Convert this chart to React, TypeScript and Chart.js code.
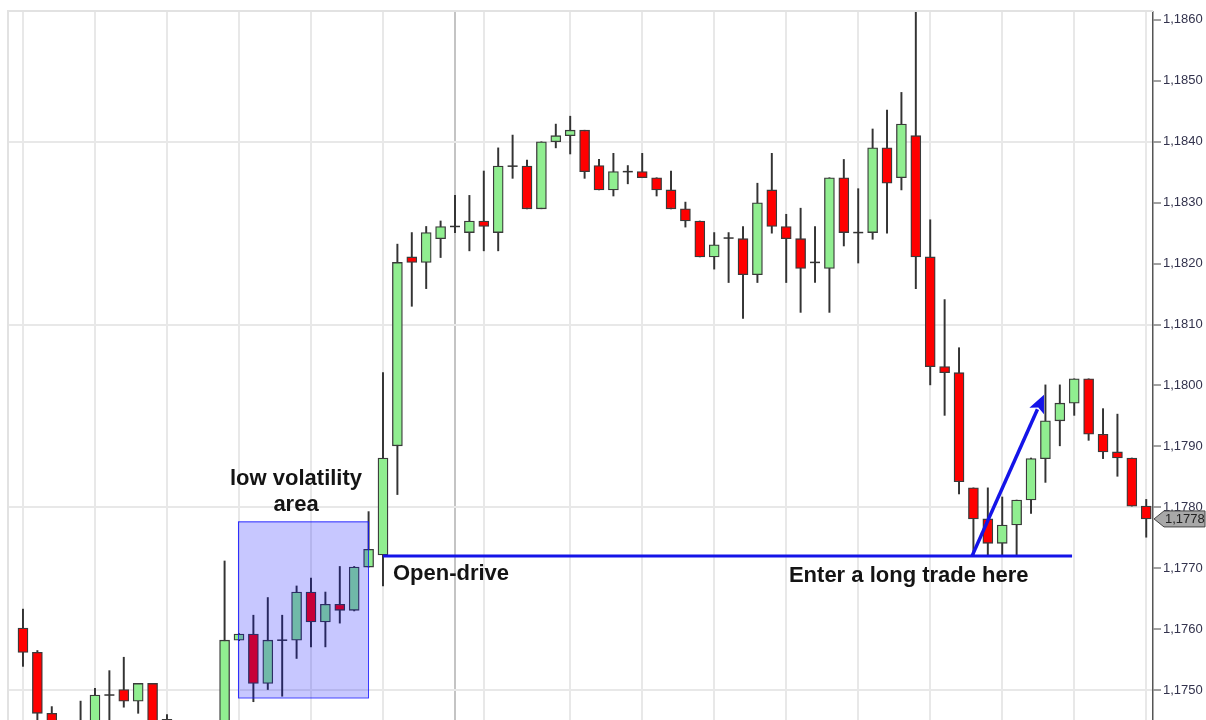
import React, { useEffect, useRef } from 'react';
import { Chart, registerables } from 'chart.js';

Chart.register(...registerables);

// ---- OHLC data (index = candle number, left to right) ----
const OPEN = [
  1.17602, 1.17562, 1.17462, 1.1743, 1.1741, 1.1743, 1.17492, 1.17501, 1.17482, 1.17511,
  1.17452, 1.1742, 1.174, 1.1741, 1.1742, 1.17582, 1.17592, 1.17511, 1.17582, 1.17582,
  1.17661, 1.17612, 1.17641, 1.17631, 1.17702, 1.17722, 1.17901, 1.18211, 1.18202, 1.18241,
  1.18261, 1.18251, 1.1827, 1.18251, 1.1836, 1.1836, 1.1829, 1.184, 1.1841, 1.18419,
  1.18361, 1.18321, 1.18351, 1.18351, 1.18341, 1.18321, 1.1829, 1.1827, 1.18211, 1.18242,
  1.18241, 1.18182, 1.18321, 1.18261, 1.18241, 1.18202, 1.18192, 1.18341, 1.18251, 1.18251,
  1.1839, 1.18341, 1.1841, 1.18211, 1.18031, 1.18021, 1.17832, 1.17781, 1.17741, 1.17771,
  1.17812, 1.1788, 1.17942, 1.17971, 1.18011, 1.1792, 1.17891, 1.17881, 1.17802,
];
const HIGH = [
  1.17633, 1.17565, 1.17473, 1.1744, 1.17482, 1.17503, 1.17532, 1.17554, 1.17511, 1.17511,
  1.1746, 1.1744, 1.1743, 1.1744, 1.17712, 1.17593, 1.17623, 1.17652, 1.17623, 1.17671,
  1.17684, 1.17661, 1.17703, 1.17703, 1.17793, 1.18021, 1.18232, 1.18251, 1.18261, 1.1827,
  1.18312, 1.18312, 1.18352, 1.1839, 1.18411, 1.1837, 1.184, 1.18429, 1.18442, 1.18419,
  1.18371, 1.18381, 1.18361, 1.18381, 1.18341, 1.18352, 1.18301, 1.1827, 1.18251, 1.18251,
  1.18261, 1.18332, 1.18381, 1.18281, 1.18291, 1.18261, 1.18341, 1.18371, 1.18323, 1.18421,
  1.18452, 1.18481, 1.1862, 1.18272, 1.18141, 1.18062, 1.17832, 1.17832, 1.17817, 1.17812,
  1.17881, 1.18001, 1.18001, 1.18011, 1.18011, 1.17962, 1.17953, 1.17881, 1.17813,
];
const LOW = [
  1.17539, 1.1744, 1.1741, 1.1738, 1.1739, 1.1742, 1.1742, 1.17472, 1.17462, 1.1742,
  1.174, 1.1738, 1.1737, 1.1739, 1.1741, 1.17581, 1.17481, 1.17501, 1.1749, 1.17552,
  1.17571, 1.17571, 1.1761, 1.1763, 1.17702, 1.17671, 1.17821, 1.1813, 1.18159, 1.1821,
  1.18251, 1.18221, 1.18221, 1.18221, 1.1834, 1.1829, 1.1829, 1.1839, 1.1838, 1.1834,
  1.18321, 1.18311, 1.18331, 1.18341, 1.18311, 1.1829, 1.1826, 1.18211, 1.18191, 1.18169,
  1.1811, 1.18169, 1.1825, 1.18169, 1.1812, 1.18169, 1.1812, 1.18229, 1.18201, 1.1824,
  1.1825, 1.18321, 1.18159, 1.18001, 1.17951, 1.17822, 1.1772, 1.1772, 1.1772, 1.1772,
  1.1779, 1.17841, 1.17901, 1.17951, 1.1791, 1.1788, 1.17851, 1.17802, 1.17751,
];
const CLOSE = [
  1.17562, 1.17462, 1.1743, 1.174, 1.1743, 1.17492, 1.17492, 1.17482, 1.17511, 1.1744,
  1.1742, 1.174, 1.1741, 1.1742, 1.17582, 1.17592, 1.17511, 1.17582, 1.17582, 1.17661,
  1.17612, 1.17641, 1.17631, 1.17702, 1.17731, 1.17881, 1.18202, 1.18202, 1.18251, 1.18261,
  1.18261, 1.1827, 1.18261, 1.1836, 1.1836, 1.1829, 1.184, 1.1841, 1.18419, 1.18351,
  1.18321, 1.18351, 1.18351, 1.18341, 1.18321, 1.1829, 1.1827, 1.18211, 1.18231, 1.18242,
  1.18182, 1.183, 1.18261, 1.18241, 1.18192, 1.18202, 1.18341, 1.18251, 1.18251, 1.1839,
  1.18332, 1.18429, 1.18211, 1.18031, 1.18021, 1.17842, 1.17781, 1.17741, 1.17771, 1.17812,
  1.1788, 1.17942, 1.17971, 1.18011, 1.1792, 1.17891, 1.17881, 1.17802, 1.17781,
];

// ---- axes ----
const Y_TICKS = [1.175, 1.176, 1.177, 1.178, 1.179, 1.18, 1.181, 1.182, 1.183, 1.184, 1.185, 1.186];
const Y_GRID = [1.175, 1.178, 1.181, 1.184];
const X_GRID = [0, 5, 10, 15, 20, 25, 30, 32, 38, 43, 48, 53, 58, 63, 68, 73, 78];
const SESSION_BREAK = 30;
const X_RANGE = [-1.04, 78.47];
const Y_RANGE = [1.17451, 1.18613];

// ---- annotations (data coordinates) ----
const BOX_X = [14.93, 23.96];
const BOX_Y = [1.17488, 1.17777];
const ENTRY_LINE_X = [25, 72.85];
const ENTRY_LINE_Y = 1.1772;
const ARROW_FROM = [65.9, 1.1772];
const ARROW_TO = [70.9, 1.17985];
const NOTE_TEXT = ['low volatility', 'area', 'Open-drive', 'Enter a long trade here'];
const NOTE_X = [18.96, 18.96, 25.69, 53.19];
const NOTE_Y = [1.178373, 1.177938, 1.176805, 1.176772];
const NOTE_ALIGN: CanvasTextAlign[] = ['center', 'center', 'left', 'left'];

const FONT = '"Liberation Sans", Arial, sans-serif';
const UP = '#90ee90';
const DOWN = '#ff0000';
const BLUE = '#1414e8';

const fmt = (v: number) => v.toFixed(4).replace('.', ',');

const annotationPlugin = {
  id: 'annotations',
  beforeDatasetsDraw(chart: any) {
    const { ctx, chartArea: a } = chart;
    ctx.save();
    ctx.strokeStyle = '#e2e2e2';
    ctx.lineWidth = 2;
    ctx.beginPath();
    ctx.moveTo(a.left, a.bottom);
    ctx.lineTo(a.left, a.top - 1);
    ctx.lineTo(a.right, a.top - 1);
    ctx.stroke();
    ctx.restore();
  },
  afterDatasetsDraw(chart: any) {
    const { ctx, chartArea: a } = chart;
    const x = chart.scales.x;
    const y = chart.scales.y;
    ctx.save();

    // low-volatility box
    const bx0 = x.getPixelForValue(BOX_X[0]);
    const bx1 = x.getPixelForValue(BOX_X[1]);
    const by0 = y.getPixelForValue(BOX_Y[1]);
    const by1 = y.getPixelForValue(BOX_Y[0]);
    ctx.fillStyle = 'rgba(0,0,255,0.22)';
    ctx.fillRect(bx0, by0, bx1 - bx0, by1 - by0);
    ctx.strokeStyle = 'rgba(20,20,255,0.85)';
    ctx.lineWidth = 1;
    ctx.strokeRect(bx0 + 0.5, by0 + 0.5, bx1 - bx0, by1 - by0);

    // arrow
    const ax0 = x.getPixelForValue(ARROW_FROM[0]);
    const ay0 = y.getPixelForValue(ARROW_FROM[1]);
    const ax1 = x.getPixelForValue(ARROW_TO[0]);
    const ay1 = y.getPixelForValue(ARROW_TO[1]);
    const ang = Math.atan2(ay1 - ay0, ax1 - ax0);
    const headLen = 18;
    const headHalf = 8;
    const hbx = ax1 - headLen * Math.cos(ang);
    const hby = ay1 - headLen * Math.sin(ang);
    ctx.strokeStyle = BLUE;
    ctx.fillStyle = BLUE;
    ctx.lineWidth = 3.5;
    ctx.beginPath();
    ctx.moveTo(ax0, ay0);
    ctx.lineTo(hbx + 2 * Math.cos(ang), hby + 2 * Math.sin(ang));
    ctx.stroke();
    ctx.beginPath();
    ctx.moveTo(ax1, ay1);
    ctx.lineTo(hbx + headHalf * Math.sin(ang), hby - headHalf * Math.cos(ang));
    ctx.lineTo(hbx + 4 * Math.cos(ang), hby + 4 * Math.sin(ang));
    ctx.lineTo(hbx - headHalf * Math.sin(ang), hby + headHalf * Math.cos(ang));
    ctx.closePath();
    ctx.fill();

    // notes
    ctx.fillStyle = '#141414';
    ctx.font = 'bold 22px ' + FONT;
    ctx.textBaseline = 'alphabetic';
    NOTE_TEXT.forEach((t, i) => {
      ctx.textAlign = NOTE_ALIGN[i];
      ctx.fillText(t, x.getPixelForValue(NOTE_X[i]), y.getPixelForValue(NOTE_Y[i]));
    });

    // last price tag
    const last = CLOSE[CLOSE.length - 1];
    const py = y.getPixelForValue(last);
    const tx = a.right + 1;
    ctx.beginPath();
    ctx.moveTo(tx, py);
    ctx.lineTo(tx + 10, py - 8);
    ctx.lineTo(tx + 51, py - 8);
    ctx.lineTo(tx + 51, py + 8);
    ctx.lineTo(tx + 10, py + 8);
    ctx.closePath();
    ctx.fillStyle = '#a8a8a8';
    ctx.fill();
    ctx.strokeStyle = '#444';
    ctx.lineWidth = 1;
    ctx.stroke();
    ctx.fillStyle = '#222';
    ctx.font = '13px ' + FONT;
    ctx.textAlign = 'left';
    ctx.textBaseline = 'middle';
    ctx.fillText(fmt(last), tx + 11, py + 0.5);

    ctx.restore();
  },
};

export default function App() {
  const ref = useRef<HTMLCanvasElement>(null);

  useEffect(() => {
    if (!ref.current) return;
    const idx = OPEN.map((_, i) => i);
    const isDoji = (i: number) => OPEN[i] === CLOSE[i];
    const bodyIdx = idx.filter((i) => !isDoji(i));
    const wickData = idx.map((i) => ({ x: i, y: [LOW[i], HIGH[i]] }));
    const bodyData = bodyIdx.map((i) => ({ x: i, y: [OPEN[i], CLOSE[i]] }));
    const bodyColors = bodyIdx.map((i) => (CLOSE[i] > OPEN[i] ? UP : DOWN));
    const dojiData = idx.filter(isDoji).map((i) => ({ x: i, y: CLOSE[i] }));

    const chart = new Chart(ref.current, {
      type: 'bar',
      data: {
        datasets: [
          {
            type: 'line',
            data: [
              { x: ENTRY_LINE_X[0], y: ENTRY_LINE_Y },
              { x: ENTRY_LINE_X[1], y: ENTRY_LINE_Y },
            ],
            borderColor: BLUE,
            borderWidth: 3,
            pointRadius: 0,
            order: -1,
          } as any,
          {
            type: 'bar',
            data: bodyData as any,
            backgroundColor: bodyColors,
            borderColor: '#3a3a3a',
            borderWidth: 1.3,
            borderSkipped: false,
            barThickness: 10,
            grouped: false,
            order: 1,
          } as any,
          {
            type: 'scatter',
            data: dojiData,
            pointStyle: 'line',
            pointRadius: 5,
            pointBorderColor: '#333',
            pointBorderWidth: 1.5,
            order: 1,
          } as any,
          {
            type: 'bar',
            data: wickData as any,
            backgroundColor: '#333',
            barThickness: 1.3,
            grouped: false,
            order: 2,
          } as any,
        ],
      },
      options: {
        animation: false,
        responsive: false,
        events: [],
        layout: { autoPadding: false, padding: { left: 8, top: 12, right: 0, bottom: 0 } },
        plugins: { legend: { display: false }, tooltip: { enabled: false } },
        scales: {
          x: {
            type: 'linear',
            min: X_RANGE[0],
            max: X_RANGE[1],
            offset: false,
            grid: {
              offset: false,
              drawTicks: false,
              lineWidth: 2,
              color: (c: any) => (c.tick && c.tick.value === SESSION_BREAK ? '#c4c4c4' : '#e8e8e8'),
            },
            border: { display: false },
            ticks: { display: false },
            afterBuildTicks: (s: any) => {
              s.ticks = X_GRID.map((v) => ({ value: v }));
            },
          },
          y: {
            type: 'linear',
            position: 'right',
            min: Y_RANGE[0],
            max: Y_RANGE[1],
            grid: {
              lineWidth: 2,
              color: (c: any) =>
                c.tick && Y_GRID.some((g) => Math.abs(g - c.tick.value) < 1e-7) ? '#e8e8e8' : 'rgba(0,0,0,0)',
              tickColor: '#444',
              tickWidth: 1,
              tickLength: 8,
            },
            border: { display: true, color: '#555', width: 1.5 },
            ticks: {
              padding: 2,
              color: '#33334d',
              font: { family: FONT, size: 13 },
              callback: (v: any) => fmt(Number(v)),
            },
            afterBuildTicks: (s: any) => {
              s.ticks = Y_TICKS.map((v) => ({ value: v }));
            },
            afterFit: (s: any) => {
              s.width = 53;
              s.paddingTop = 0;
              s.paddingBottom = 0;
            },
          },
        },
      } as any,
      plugins: [annotationPlugin],
    });
    return () => chart.destroy();
  }, []);

  return (
    <div style={{ position: 'fixed', left: 0, top: 0, width: 1206, height: 720, background: '#fff' }}>
      <canvas ref={ref} width={1206} height={720} style={{ display: 'block' }} />
    </div>
  );
}
